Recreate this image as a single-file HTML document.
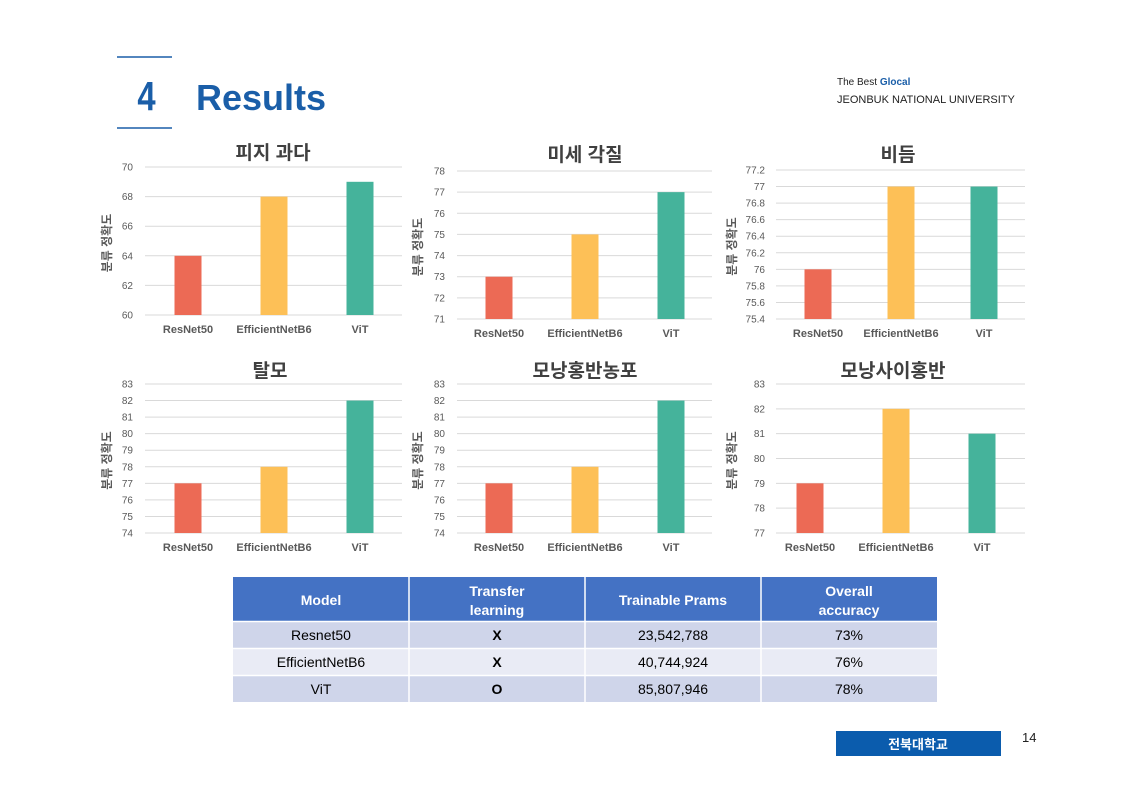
<!DOCTYPE html>
<html><head><meta charset="utf-8">
<style>
body{margin:0;background:#fff;}
svg{display:block;}
text{font-family:"Liberation Sans","Noto Sans CJK KR",sans-serif;}
</style></head>
<body>
<svg id="s" width="1121" height="793" viewBox="0 0 1121 793" xmlns="http://www.w3.org/2000/svg">
<rect width="1121" height="793" fill="#fff"/>
<line x1="117" y1="57" x2="172" y2="57" stroke="#1a5ea8" stroke-width="1.5"/>
<line x1="117" y1="128" x2="172" y2="128" stroke="#1a5ea8" stroke-width="1.5"/>
<text transform="translate(146.5 110) scale(0.8 1)" font-size="41" font-weight="bold" fill="#1a5ea8" text-anchor="middle">4</text>
<text x="196" y="110" font-size="36" font-weight="bold" fill="#1a5ea8">Results</text>
<text x="837" y="85" font-size="10" fill="#222">The Best <tspan font-weight="bold" fill="#1a5ea8">Glocal</tspan></text>
<text x="837" y="103" font-size="11" fill="#222">JEONBUK NATIONAL UNIVERSITY</text>
<rect x="836" y="731" width="165" height="25" fill="#0b5cad"/>
<text x="918" y="749" font-size="13" font-weight="bold" fill="#fff" text-anchor="middle">전북대학교</text>
<text x="1022" y="742" font-size="13" fill="#222">14</text>
<g id="charts"></g>
<g id="tbl"></g>
</svg>
<script>
var NS="http://www.w3.org/2000/svg";
function el(p,t,a,txt){var e=document.createElementNS(NS,t);for(var k in a)e.setAttribute(k,a[k]);if(txt!==undefined)e.textContent=txt;p.appendChild(e);return e;}
var g=document.getElementById("charts");
var C=[
{x0:145,x1:402,t:167,b:315,mn:60,mx:70,st:2,bx:[188,274,360],v:[64,68,69],lx:133,ax:107,title:"피지 과다",tx:273,ty:159},
{x0:457,x1:712,t:171,b:319,mn:71,mx:78,st:1,bx:[499,585,671],v:[73,75,77],lx:445,ax:418,title:"미세 각질",tx:585,ty:161},
{x0:776,x1:1025,t:170,b:319,mn:75.4,mx:77.2,st:0.2,bx:[818,901,984],v:[76,77,77],lx:765,ax:732,title:"비듬",tx:898,ty:161},
{x0:145,x1:402,t:384,b:533,mn:74,mx:83,st:1,bx:[188,274,360],v:[77,78,82],lx:133,ax:107,title:"탈모",tx:270,ty:377},
{x0:457,x1:712,t:384,b:533,mn:74,mx:83,st:1,bx:[499,585,671],v:[77,78,82],lx:445,ax:418,title:"모낭홍반농포",tx:585,ty:377},
{x0:776,x1:1025,t:384,b:533,mn:77,mx:83,st:1,bx:[810,896,982],v:[79,82,81],lx:765,ax:732,title:"모낭사이홍반",tx:893,ty:377}
];
var cols=["#ec6a55","#fdc057","#45b39b"],names=["ResNet50","EfficientNetB6","ViT"];
C.forEach(function(c){
 var n=Math.round((c.mx-c.mn)/c.st);
 function Y(v){return c.b-(v-c.mn)/(c.mx-c.mn)*(c.b-c.t);}
 for(var i=0;i<=n;i++){var v=c.mn+i*c.st,y=c.b-i*(c.b-c.t)/n;
  el(g,"line",{x1:c.x0,x2:c.x1,y1:y,y2:y,stroke:"#d9d9d9","stroke-width":1});
  el(g,"text",{x:c.lx,y:y+3.5,"font-size":10,fill:"#595959","text-anchor":"end"},String(Math.round(v*10)/10));}
 c.bx.forEach(function(x,j){var y=Y(c.v[j]);
  el(g,"rect",{x:x-13.5,y:y,width:27,height:c.b-y,fill:cols[j]});
  el(g,"text",{x:x,y:c.b+18,"font-size":11,"font-weight":"bold",fill:"#595959","text-anchor":"middle"},names[j]);});
 el(g,"text",{x:c.tx,y:c.ty,"font-size":19,"font-weight":"bold",fill:"#404040","text-anchor":"middle"},c.title);
 var cy=(c.t+c.b)/2+2;
 el(g,"text",{x:c.ax,y:cy,"font-size":12,"font-weight":"bold",fill:"#595959","text-anchor":"middle",transform:"rotate(-90 "+c.ax+" "+cy+")",dy:"4"},"분류 정확도");
});
var T=document.getElementById("tbl");
var cx=[233,409,585,761,937];
el(T,"rect",{x:233,y:577,width:704,height:44,fill:"#4472c4"});
var hd=[["Model"],["Transfer","learning"],["Trainable Prams"],["Overall","accuracy"]];
hd.forEach(function(h,i){var mx=(cx[i]+cx[i+1])/2;
 if(h.length==1)el(T,"text",{x:mx,y:605,"font-size":14,"font-weight":"bold",fill:"#fff","text-anchor":"middle"},h[0]);
 else{el(T,"text",{x:mx,y:596,"font-size":14,"font-weight":"bold",fill:"#fff","text-anchor":"middle"},h[0]);
 el(T,"text",{x:mx,y:615,"font-size":14,"font-weight":"bold",fill:"#fff","text-anchor":"middle"},h[1]);}});
var rows=[["Resnet50","X","23,542,788","73%"],["EfficientNetB6","X","40,744,924","76%"],["ViT","O","85,807,946","78%"]];
var rc=["#cfd5ea","#e9ebf5","#cfd5ea"];
rows.forEach(function(r,k){var y=622+k*27;
 el(T,"rect",{x:233,y:y,width:704,height:26,fill:rc[k]});
 r.forEach(function(t,i){el(T,"text",{x:(cx[i]+cx[i+1])/2,y:y+18,"font-size":14,"font-weight":i==1?"bold":"normal",fill:"#000","text-anchor":"middle"},t);});});
for(var i=1;i<4;i++)el(T,"line",{x1:cx[i],x2:cx[i],y1:577,y2:702,stroke:"#fff","stroke-width":1.5});
for(var k=0;k<3;k++)el(T,"line",{x1:233,x2:937,y1:621.5+k*27,y2:621.5+k*27,stroke:"#fff","stroke-width":1.5});
</script>
</body></html>
